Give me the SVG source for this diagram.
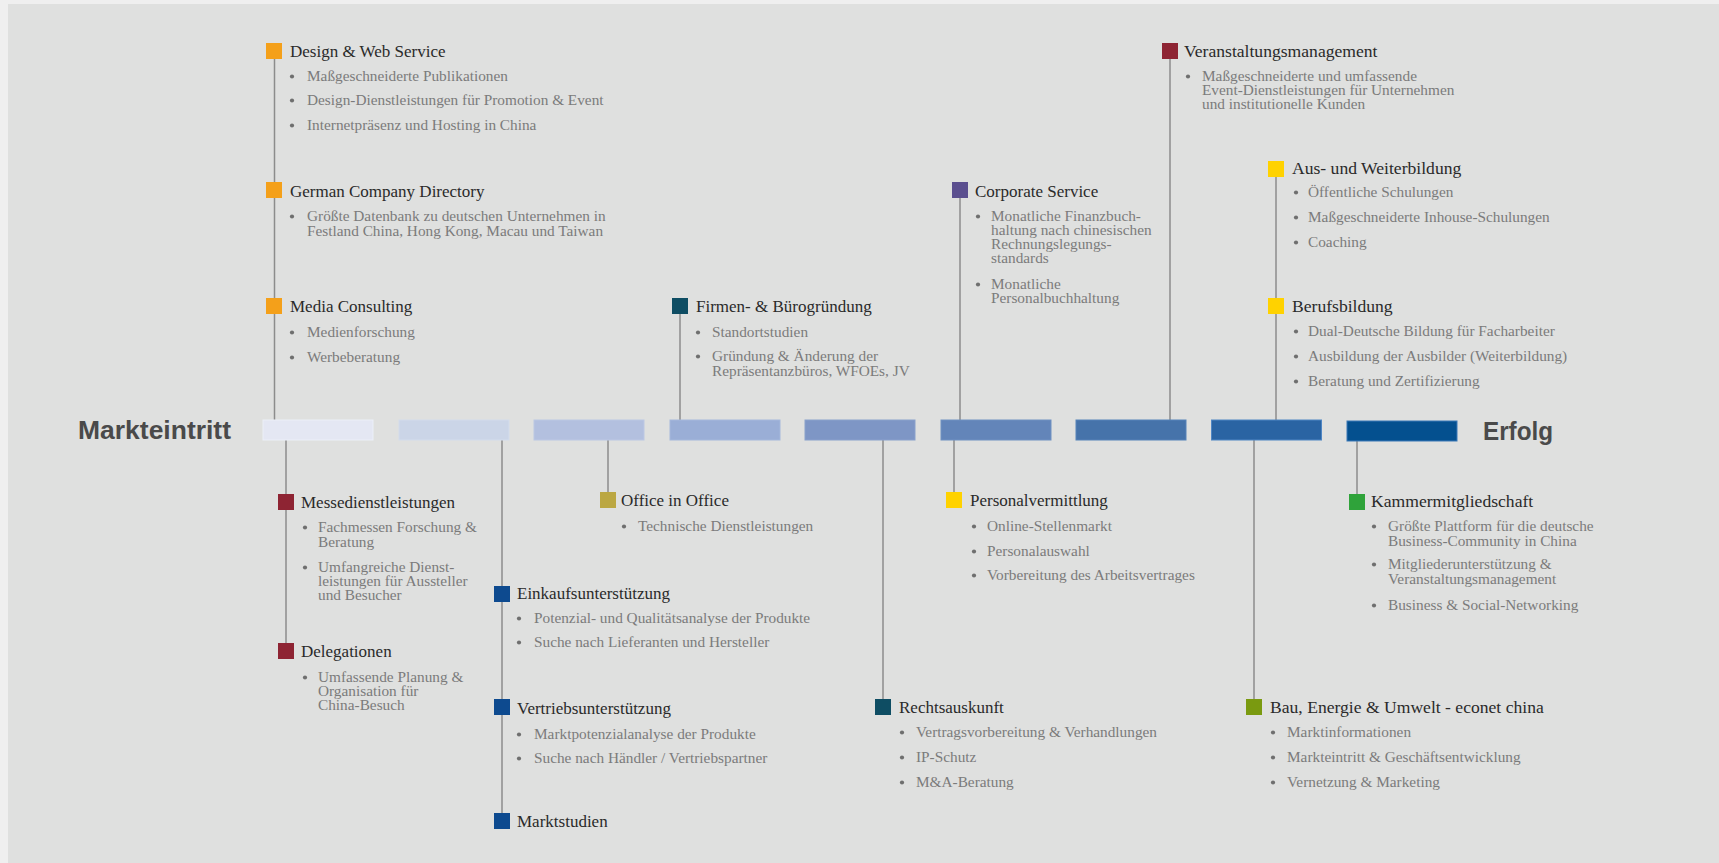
<svg xmlns="http://www.w3.org/2000/svg" width="1719" height="863" viewBox="0 0 1719 863">
  <style>
    .t { font-family: "Liberation Serif", "Times New Roman", serif; font-size: 17px; fill: #2a2a2a; }
    .tw { font-family: "Liberation Serif", "Times New Roman", serif; font-size: 17.6px; fill: #2a2a2a; }
    .b { font-family: "Liberation Serif", "Times New Roman", serif; font-size: 15.3px; fill: #7b7b7b; }
    .dot { fill: #6f6f6f; }
    .end { font-family: "Liberation Sans", Arial, sans-serif; font-weight: bold; font-size: 25px; fill: #4a4a4a; }
    .conn line { stroke: #8c8c8c; stroke-width: 1.5; }
    .bar { stroke-width: 1; }
  </style>
  <defs>
    <circle id="bullet" r="2.1" class="dot"/>
  </defs>

  <!-- canvas -->
  <rect x="0" y="0" width="1719" height="863" fill="#efefef"/>
  <rect x="8" y="4" width="1711" height="859" fill="#dfe0df"/>

  <!-- connectors -->
  <g id="connectors" class="conn">
    <line x1="274.5" y1="51" x2="274.5" y2="420"/>
    <line x1="680" y1="306" x2="680" y2="420"/>
    <line x1="960" y1="190" x2="960" y2="420"/>
    <line x1="1170" y1="51" x2="1170" y2="420"/>
    <line x1="1276" y1="169" x2="1276" y2="420"/>
    <line x1="286" y1="440" x2="286" y2="651"/>
    <line x1="502" y1="440" x2="502" y2="821"/>
    <line x1="608" y1="440" x2="608" y2="500"/>
    <line x1="954" y1="440" x2="954" y2="500"/>
    <line x1="883" y1="440" x2="883" y2="707"/>
    <line x1="1254" y1="440" x2="1254" y2="707"/>
    <line x1="1357" y1="441" x2="1357" y2="502"/>
  </g>

  <!-- timeline -->
  <g id="timeline">
    <text class="end" x="78" y="439" textLength="153" lengthAdjust="spacingAndGlyphs">Markteintritt</text>
    <rect class="bar" x="263" y="420" width="110" height="20" fill="#e4e7f3" stroke="#eceff8"/>
    <rect class="bar" x="399" y="420" width="110" height="20" fill="#cbd5e7" stroke="#d3dcec"/>
    <rect class="bar" x="534" y="420" width="110" height="20" fill="#b3c0df" stroke="#bcc8e4"/>
    <rect class="bar" x="670" y="420" width="110" height="20" fill="#9aaed6" stroke="#a5b8dc"/>
    <rect class="bar" x="805" y="420" width="110" height="20" fill="#7e96c5" stroke="#8aa1cc"/>
    <rect class="bar" x="941" y="420" width="110" height="20" fill="#6385b9" stroke="#7091c2"/>
    <rect class="bar" x="1076" y="420" width="110" height="20" fill="#4673aa" stroke="#5683b9"/>
    <rect class="bar" x="1211.5" y="420" width="110" height="20" fill="#2a64a3" stroke="#4f86c4"/>
    <rect class="bar" x="1347" y="421" width="110" height="20" fill="#04508f" stroke="#3b78b8"/>
    <text class="end" x="1483" y="440" textLength="70" lengthAdjust="spacingAndGlyphs">Erfolg</text>
  </g>

  <!-- upper nodes -->
  <g id="design-web-service">
    <rect x="266" y="43" width="16" height="16" fill="#f4a01a"/>
    <text class="t" x="290" y="57">Design &amp; Web Service</text>
    <use href="#bullet" x="292" y="76.5"/>
    <text class="b" x="307" y="81">Maßgeschneiderte Publikationen</text>
    <use href="#bullet" x="292" y="100.5"/>
    <text class="b" x="307" y="105">Design-Dienstleistungen für Promotion &amp; Event</text>
    <use href="#bullet" x="292" y="125.5"/>
    <text class="b" x="307" y="130">Internetpräsenz und Hosting in China</text>
  </g>

  <g id="german-company-directory">
    <rect x="266" y="182" width="16" height="16" fill="#f4a01a"/>
    <text class="t" x="290" y="197">German Company Directory</text>
    <use href="#bullet" x="292" y="216.5"/>
    <text class="b" x="307" y="221">Größte Datenbank zu deutschen Unternehmen in</text>
    <text class="b" x="307" y="236">Festland China, Hong Kong, Macau und Taiwan</text>
  </g>

  <g id="media-consulting">
    <rect x="266" y="298" width="16" height="16" fill="#f4a01a"/>
    <text class="t" x="290" y="312">Media Consulting</text>
    <use href="#bullet" x="292" y="332.5"/>
    <text class="b" x="307" y="337">Medienforschung</text>
    <use href="#bullet" x="292" y="357.5"/>
    <text class="b" x="307" y="362">Werbeberatung</text>
  </g>

  <g id="firmengruendung">
    <rect x="672" y="298" width="16" height="16" fill="#0e4d63"/>
    <text class="t" x="696" y="312">Firmen- &amp; Bürogründung</text>
    <use href="#bullet" x="698" y="332.5"/>
    <text class="b" x="712" y="337">Standortstudien</text>
    <use href="#bullet" x="698" y="356.5"/>
    <text class="b" x="712" y="361">Gründung &amp; Änderung der</text>
    <text class="b" x="712" y="376">Repräsentanzbüros, WFOEs, JV</text>
  </g>

  <g id="corporate-service">
    <rect x="952" y="182" width="16" height="16" fill="#5b4f8f"/>
    <text class="t" x="975" y="197">Corporate Service</text>
    <use href="#bullet" x="978" y="216.5"/>
    <text class="b" x="991" y="221">Monatliche Finanzbuch-</text>
    <text class="b" x="991" y="235">haltung nach chinesischen</text>
    <text class="b" x="991" y="249">Rechnungslegungs-</text>
    <text class="b" x="991" y="263">standards</text>
    <use href="#bullet" x="978" y="284.5"/>
    <text class="b" x="991" y="289">Monatliche</text>
    <text class="b" x="991" y="303">Personalbuchhaltung</text>
  </g>

  <g id="veranstaltungsmanagement">
    <rect x="1162" y="43" width="16" height="16" fill="#8e2433"/>
    <text class="tw" x="1184" y="57">Veranstaltungsmanagement</text>
    <use href="#bullet" x="1188" y="76.5"/>
    <text class="b" x="1202" y="81">Maßgeschneiderte und umfassende</text>
    <text class="b" x="1202" y="95">Event-Dienstleistungen für Unternehmen</text>
    <text class="b" x="1202" y="109">und institutionelle Kunden</text>
  </g>

  <g id="aus-und-weiterbildung">
    <rect x="1268" y="161" width="16" height="16" fill="#ffd200"/>
    <text class="tw" x="1292" y="174">Aus- und Weiterbildung</text>
    <use href="#bullet" x="1296" y="192.5"/>
    <text class="b" x="1308" y="197">Öffentliche Schulungen</text>
    <use href="#bullet" x="1296" y="217.5"/>
    <text class="b" x="1308" y="222">Maßgeschneiderte Inhouse-Schulungen</text>
    <use href="#bullet" x="1296" y="242.5"/>
    <text class="b" x="1308" y="247">Coaching</text>
  </g>

  <g id="berufsbildung">
    <rect x="1268" y="298" width="16" height="16" fill="#ffd200"/>
    <text class="tw" x="1292" y="312">Berufsbildung</text>
    <use href="#bullet" x="1296" y="331.5"/>
    <text class="b" x="1308" y="336">Dual-Deutsche Bildung für Facharbeiter</text>
    <use href="#bullet" x="1296" y="356.5"/>
    <text class="b" x="1308" y="361">Ausbildung der Ausbilder (Weiterbildung)</text>
    <use href="#bullet" x="1296" y="381.5"/>
    <text class="b" x="1308" y="386">Beratung und Zertifizierung</text>
  </g>

  <!-- lower nodes -->
  <g id="messedienstleistungen">
    <rect x="278" y="494" width="16" height="16" fill="#8e2433"/>
    <text class="t" x="301" y="508">Messedienstleistungen</text>
    <use href="#bullet" x="305" y="527.5"/>
    <text class="b" x="318" y="532">Fachmessen Forschung &amp;</text>
    <text class="b" x="318" y="547">Beratung</text>
    <use href="#bullet" x="305" y="567.5"/>
    <text class="b" x="318" y="572">Umfangreiche Dienst-</text>
    <text class="b" x="318" y="586">leistungen für Aussteller</text>
    <text class="b" x="318" y="600">und Besucher</text>
  </g>

  <g id="delegationen">
    <rect x="278" y="643" width="16" height="16" fill="#8e2433"/>
    <text class="t" x="301" y="657">Delegationen</text>
    <use href="#bullet" x="305" y="677.5"/>
    <text class="b" x="318" y="682">Umfassende Planung &amp;</text>
    <text class="b" x="318" y="696">Organisation für</text>
    <text class="b" x="318" y="710">China-Besuch</text>
  </g>

  <g id="einkaufsunterstuetzung">
    <rect x="494" y="586" width="16" height="16" fill="#0d4a8f"/>
    <text class="t" x="517" y="599">Einkaufsunterstützung</text>
    <use href="#bullet" x="519" y="618.5"/>
    <text class="b" x="534" y="623">Potenzial- und Qualitätsanalyse der Produkte</text>
    <use href="#bullet" x="519" y="642.5"/>
    <text class="b" x="534" y="647">Suche nach Lieferanten und Hersteller</text>
  </g>

  <g id="vertriebsunterstuetzung">
    <rect x="494" y="699" width="16" height="16" fill="#0d4a8f"/>
    <text class="t" x="517" y="714">Vertriebsunterstützung</text>
    <use href="#bullet" x="519" y="734.5"/>
    <text class="b" x="534" y="739">Marktpotenzialanalyse der Produkte</text>
    <use href="#bullet" x="519" y="758.5"/>
    <text class="b" x="534" y="763">Suche nach Händler / Vertriebspartner</text>
  </g>

  <g id="marktstudien">
    <rect x="494" y="813" width="16" height="16" fill="#0d4a8f"/>
    <text class="t" x="517" y="827">Marktstudien</text>
  </g>

  <g id="office-in-office">
    <rect x="600" y="492" width="16" height="16" fill="#bba742"/>
    <text class="t" x="621" y="506">Office in Office</text>
    <use href="#bullet" x="624" y="526.5"/>
    <text class="b" x="638" y="531">Technische Dienstleistungen</text>
  </g>

  <g id="personalvermittlung">
    <rect x="946" y="492" width="16" height="16" fill="#ffd200"/>
    <text class="t" x="970" y="506">Personalvermittlung</text>
    <use href="#bullet" x="974" y="526.5"/>
    <text class="b" x="987" y="531">Online-Stellenmarkt</text>
    <use href="#bullet" x="974" y="551.5"/>
    <text class="b" x="987" y="556">Personalauswahl</text>
    <use href="#bullet" x="974" y="575.5"/>
    <text class="b" x="987" y="580">Vorbereitung des Arbeitsvertrages</text>
  </g>

  <g id="rechtsauskunft">
    <rect x="875" y="699" width="16" height="16" fill="#0e4d63"/>
    <text class="t" x="899" y="713">Rechtsauskunft</text>
    <use href="#bullet" x="902" y="732.5"/>
    <text class="b" x="916" y="737">Vertragsvorbereitung &amp; Verhandlungen</text>
    <use href="#bullet" x="902" y="757.5"/>
    <text class="b" x="916" y="762">IP-Schutz</text>
    <use href="#bullet" x="902" y="782.5"/>
    <text class="b" x="916" y="787">M&amp;A-Beratung</text>
  </g>

  <g id="econet-china">
    <rect x="1246" y="699" width="16" height="16" fill="#7a9a10"/>
    <text class="tw" x="1270" y="713">Bau, Energie &amp; Umwelt - econet china</text>
    <use href="#bullet" x="1273" y="732.5"/>
    <text class="b" x="1287" y="737">Marktinformationen</text>
    <use href="#bullet" x="1273" y="757.5"/>
    <text class="b" x="1287" y="762">Markteintritt &amp; Geschäftsentwicklung</text>
    <use href="#bullet" x="1273" y="782.5"/>
    <text class="b" x="1287" y="787">Vernetzung &amp; Marketing</text>
  </g>

  <g id="kammermitgliedschaft">
    <rect x="1349" y="494" width="16" height="16" fill="#2fa33a"/>
    <text class="tw" x="1371" y="507">Kammermitgliedschaft</text>
    <use href="#bullet" x="1374" y="526.5"/>
    <text class="b" x="1388" y="531">Größte Plattform für die deutsche</text>
    <text class="b" x="1388" y="546">Business-Community in China</text>
    <use href="#bullet" x="1374" y="564.5"/>
    <text class="b" x="1388" y="569">Mitgliederunterstützung &amp;</text>
    <text class="b" x="1388" y="584">Veranstaltungsmanagement</text>
    <use href="#bullet" x="1374" y="605.5"/>
    <text class="b" x="1388" y="610">Business &amp; Social-Networking</text>
  </g>
</svg>
